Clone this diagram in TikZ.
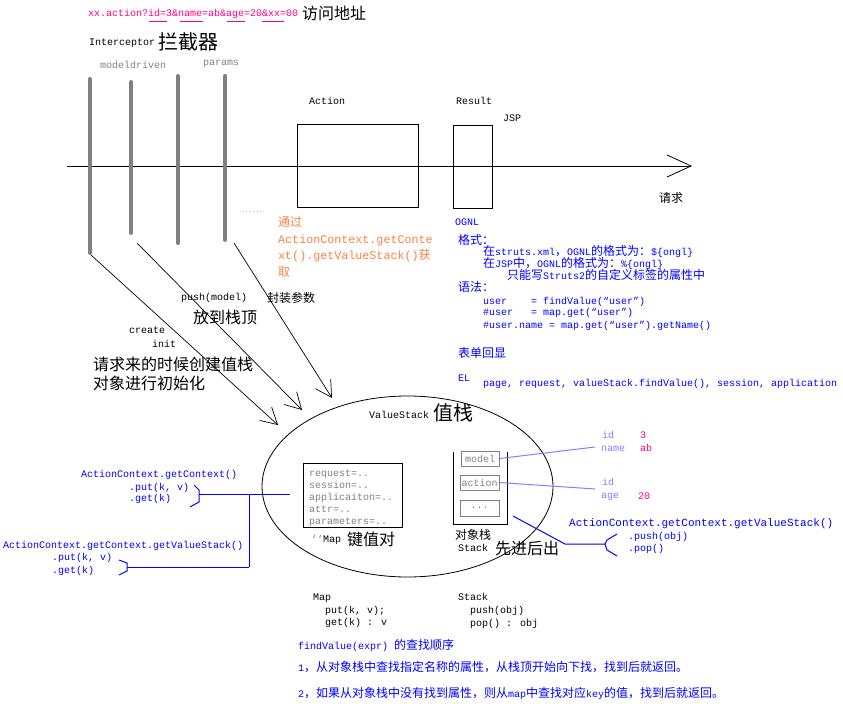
\documentclass[tikz,border=0pt]{standalone}
\usepackage{fontspec}
\setmainfont{Liberation Mono}
\newfontfamily\cjk{Noto Sans CJK SC}
\usetikzlibrary{shapes.geometric,arrows.meta}
\definecolor{urlred}{RGB}{255,0,128}
\definecolor{barGray}{RGB}{128,128,128}
\definecolor{tipOrange}{RGB}{255,128,64}
\definecolor{noteBlue}{RGB}{0,0,255}
\definecolor{linkViolet}{RGB}{128,128,255}
\newcommand\zh[1]{{\cjk\fontsize{12}{14}\selectfont #1}}
\tikzset{
  lbl/.style={inner sep=0pt, anchor=west, text height=7pt, text depth=2pt,
    font=\fontsize{10}{12}\selectfont},
  zhsmall/.style={lbl, text height=9.5pt, text depth=1.5pt, font=\cjk\fontsize{12}{14}\selectfont},
  zhbig/.style={lbl, text height=12.5pt, text depth=2pt, font=\cjk\fontsize{16}{18}\selectfont},
  zhhuge/.style={lbl, text height=16pt, text depth=2.5pt, font=\cjk\fontsize{20}{22}\selectfont},
  grey/.style={lbl, text=barGray},
  memo/.style={lbl, text=noteBlue},
  bar/.style={line width=4pt, draw=barGray, line cap=round},
  frame/.style={draw, inner sep=0pt, anchor=center},
  cell/.style={draw=barGray, line width=1pt, inner sep=0pt, anchor=center,
    text=barGray, font=\fontsize{10}{12}\selectfont},
  into/.style={-{Straight Barb[length=16pt,width=18pt]}, line width=0.7pt},
  link/.style={draw=noteBlue, line width=1pt},
  vlink/.style={draw=linkViolet, line width=1pt},
  urlline/.style={draw=urlred, line width=1pt}
}
\begin{document}
\begin{tikzpicture}[x=1pt,y=-1pt]
  \useasboundingbox (0,0) rectangle (843,706);
  % request line, interceptors, action and result
  \coordinate (in) at (67,166);
  \coordinate (out) at (692,166);
  \coordinate (b1t) at (90,79);  \coordinate (b1b) at (90,253);
  \coordinate (b2t) at (131,82); \coordinate (b2b) at (131,233);
  \coordinate (b3t) at (178,76); \coordinate (b3b) at (178,243);
  \coordinate (b4t) at (225,76); \coordinate (b4b) at (225,240);
  \node[frame, minimum width=121pt, minimum height=83pt] (act) at (357.5,165.5) {};
  \node[frame, minimum width=39pt, minimum height=83pt] (res) at (472.5,166.5) {};
  \draw[line width=0.8pt, -{Straight Barb[length=24pt,width=22pt]}] (in) to (out);
  \draw[bar] (b1t) -- (b1b);
  \draw[bar] (b2t) -- (b2b);
  \draw[bar] (b3t) -- (b3b);
  \draw[bar] (b4t) -- (b4b);
  \draw
    (88,14) node[lbl, text=urlred] (url) {xx.action?id=3\&name=ab\&age=20\&xx=00}
    (302,14) node[zhbig] (visit) {访问地址}
    (89,43) node[lbl] (icpt) {Interceptor}
    (158,43) node[zhhuge] (icptzh) {拦截器}
    (100,66) node[grey] (md) {modeldriven}
    (203,63) node[grey] (params) {params}
    (309,102) node[lbl] (actlbl) {Action}
    (456,102) node[lbl] (reslbl) {Result}
    (503,119) node[lbl] (jsp) {JSP}
    (659,198) node[zhsmall] (req) {请求}
    (241,210) node[grey, font=\fontsize{6}{7}\selectfont] (more) {......}
    (278,216) node[lbl, anchor=north west, align=left, text=tipOrange,
      text height={}, text depth={}, font=\fontsize{11.7}{16.8}\selectfont] (via)
      {\zh{通过}\\ActionContext.getConte\\xt().getValueStack()\zh{获}\\\zh{取}}
    (181,298) node[lbl] (push) {push(model)}
    (193,318) node[zhbig] (pushzh) {放到栈顶}
    (267,298) node[zhsmall] (fill) {封装参数}
    (129,331) node[lbl] (create) {create}
    (152,345) node[lbl] (init) {init}
    (93,365) node[zhbig] (initzh1) {请求来的时候创建值栈}
    (93,384) node[zhbig] (initzh2) {对象进行初始化};
  % OGNL notes
  \draw
    (455,223) node[memo] (ognl) {OGNL}
    (458,242) node[memo, font=\cjk\fontsize{12}{14}\selectfont] (fmt) {格式：}
    (483,253) node[memo] (fmt1) {\zh{在}struts.xml\zh{，}OGNL\zh{的格式为：}\$\{ongl\}}
    (483,265) node[memo] (fmt2) {\zh{在}JSP\zh{中，}OGNL\zh{的格式为：}\%\{ongl\}}
    (507,277) node[memo] (fmt3) {\zh{只能写}Struts2\zh{的自定义标签的属性中}}
    (458,289) node[memo, font=\cjk\fontsize{12}{14}\selectfont] (syn) {语法：}
    (483,302) node[memo] (syn1) {user~~~~= findValue(“user”)}
    (483,313) node[memo] (syn2) {\#user~~~= map.get(“user”)}
    (483,326) node[memo] (syn3) {\#user.name = map.get(“user”).getName()}
    (458,355) node[memo, font=\cjk\fontsize{12}{14}\selectfont] (echo) {表单回显}
    (458,379) node[memo] (el) {EL}
    (483,384) node[memo] (elval) {page, request, valueStack.findValue(), session, application};
  % value stack
  \node[draw, ellipse, line width=0.8pt, inner sep=0pt, minimum width=291pt,
    minimum height=181pt] (vs) at (407.5,486.5) {};
  \node[frame, line width=1pt, minimum width=99pt, minimum height=64pt] (mapbox) at (352.5,495) {};
  \node[cell, minimum width=38pt, minimum height=15pt] (mdl) at (480,458.5) {model};
  \node[cell, minimum width=39pt, minimum height=15pt] (act2) at (479.5,482.5) {action};
  \node[cell, minimum width=39pt, minimum height=16pt] (etc) at (479.5,508) {...};
  \coordinate (stl) at (453,452);
  \coordinate (str) at (507,452);
  \draw[line width=1pt] (stl) -- ++(0,72) -- ++(54,0) -- (str);
  \draw
    (369,416) node[lbl] (vslbl) {ValueStack}
    (433,414) node[zhhuge] (vszh) {值栈}
    (309,474) node[grey] (m1) {request=..}
    (309,486) node[grey] (m2) {session=..}
    (309,498) node[grey] (m3) {applicaiton=..}
    (309,510) node[grey] (m4) {attr=..}
    (309,522) node[grey] (m5) {parameters=..}
    (311,540) node[lbl] (maplbl) {{\color{barGray}`\kern0pt`}Map}
    (347,540) node[zhbig] (mapzh) {键值对}
    (455,535) node[zhsmall] (stzh) {对象栈}
    (458,549) node[lbl] (stlbl) {Stack}
    (495,549) node[zhbig] (lifo) {先进后出}
    (602,436) node[lbl, text=linkViolet] (id1) {id}
    (601,449) node[lbl, text=linkViolet] (name) {name}
    (640,436) node[lbl, text=urlred] (v3) {3}
    (640,449) node[lbl, text=urlred] (vab) {ab}
    (602,483) node[lbl, text=linkViolet] (id2) {id}
    (601,496) node[lbl, text=linkViolet] (age) {age}
    (638,497) node[lbl, text=urlred] (v20) {20};
  % context calls
  \draw
    (81,475) node[memo] (ctx1) {ActionContext.getContext()}
    (129,488) node[memo] (put1) {.put(k, v)}
    (129,499) node[memo] (get1) {.get(k)}
    (3,546) node[memo] (ctx2) {ActionContext.getContext.getValueStack()}
    (52,558) node[memo] (put2) {.put(k, v)}
    (52,571) node[memo] (get2) {.get(k)}
    (569,524) node[memo, font=\fontsize{11}{13}\selectfont] (ctx3) {ActionContext.getContext.getValueStack()}
    (628,537) node[memo] (push3) {.push(obj)}
    (628,549) node[memo] (pop3) {.pop()};
  % bottom notes
  \draw
    (313,598) node[lbl] (mapt) {Map}
    (325,611) node[lbl] (mput) {put(k, v);}
    (325,623) node[lbl] (mget) {get(k) : v}
    (458,598) node[lbl] (stt) {Stack}
    (470,611) node[lbl] (spush) {push(obj)}
    (470,624) node[lbl] (spop) {pop() : obj}
    (298,647) node[memo] (find) {findValue(expr) \zh{的查找顺序}}
    (298,669) node[memo] (rule1) {1\zh{，从对象栈中查找指定名称的属性，从栈顶开始向下找，找到后就返回。}}
    (298,695) node[memo] (rule2) {2\zh{，如果从对象栈中没有找到属性，则从}map\zh{中查找对应}key\zh{的值，找到后就返回。}};
  % connectors
  \coordinate (a1s) at (91,255);  \coordinate (a1e) at (278,425);
  \coordinate (a2s) at (137,243); \coordinate (a2e) at (302,410);
  \coordinate (a3s) at (234,243); \coordinate (a3e) at (332,398);
  \coordinate (idn) at (595,447);
  \coordinate (ida) at (595,489);
  \coordinate (br1) at (194,485);
  \coordinate (h1s) at (199,494);
  \coordinate (h1e) at (290,494);
  \coordinate (v1t) at (249,494);
  \coordinate (v1b) at (249,567);
  \coordinate (br2) at (127,567);
  \coordinate (sd) at (513,516);
  \coordinate (sk) at (565,544);
  \coordinate (br3) at (605,544);
  \begin{scope}[urlline]
    \draw (149,22) -- (167,22);
    \draw (180,22) -- (203,22);
    \draw (227,22) -- (245,22);
    \draw (262,22) -- (284,22);
  \end{scope}
  \begin{scope}[into]
    \draw (a1s) to (a1e);
    \draw (a2s) to (a2e);
    \draw (a3s) to (a3e);
  \end{scope}
  \begin{scope}[vlink]
    \draw (mdl.east) to (idn);
    \draw (act2.east) to (ida);
  \end{scope}
  \begin{scope}[link]
    \draw (br1) -- ++(5,5) -- ++(0,12) -- ++(-9,5);
    \draw (h1s) to (h1e);
    \draw (v1t) to (v1b);
    \draw (v1b) to (br2);
    \draw (br2) ++(-8,-7) -- ++(8,3) -- ++(0,8) -- ++(-8,4);
    \draw (sd) -- (sk) -- (br3);
    \draw (br3) ++(12,-10) -- ++(-10,6) -- ++(-2,4) -- ++(2,6) -- ++(10,6);
  \end{scope}
\end{tikzpicture}
\end{document}
